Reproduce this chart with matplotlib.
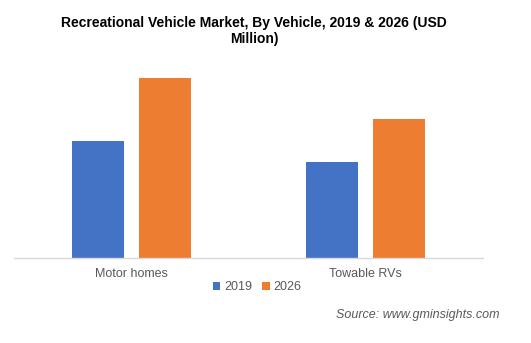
import matplotlib
matplotlib.use("Agg")
import matplotlib.pyplot as plt
import numpy as np

plt.rcParams['font.family'] = ['Liberation Sans', 'DejaVu Sans']

categories = ["Motor homes", "Towable RVs"]
years = ["2019", "2026"]
values_2019 = [117, 96]
values_2026 = [180, 139]
colors = ["#4472C4", "#ED7D31"]

fig = plt.figure(figsize=(5.31, 3.43), dpi=100)
ax = fig.add_axes([14/531, 85/343, 469/531, 198/343])

x = np.arange(len(categories))
w = 0.222
off = 0.143
ax.bar(x - off, values_2019, w, color=colors[0], label=years[0])
ax.bar(x + off, values_2026, w, color=colors[1], label=years[1])

ax.set_xlim(-0.5, 1.5)
ax.set_ylim(0, 198)
ax.set_yticks([])
ax.set_xticks(x)
ax.set_xticklabels(categories, fontsize=9, color="#595959")
ax.tick_params(axis='x', length=0, pad=7)
for s in ["top", "right", "left"]:
    ax.spines[s].set_visible(False)
ax.spines["bottom"].set_color("#d9d9d9")
ax.spines["bottom"].set_linewidth(1)

fig.text(254/531, 1 - 31/343, "Recreational Vehicle Market, By Vehicle, 2019 & 2026 (USD\nMillion)",
         ha="center", va="center", fontsize=10, fontweight="bold", linespacing=1.2)

leg = fig.legend(loc="center", bbox_to_anchor=(257/531, 1 - 287/343), ncol=2, frameon=False,
                 fontsize=9, handlelength=0.6, handleheight=0.6, handletextpad=0.3,
                 columnspacing=0.8, borderpad=0)
for t in leg.get_texts():
    t.set_color("#595959")

fig.text(500/531, 1 - 315/343, "Source: www.gminsights.com", ha="right", va="center",
         fontsize=9, style="italic", color="#595959")

fig.savefig("out.png", dpi=100)
